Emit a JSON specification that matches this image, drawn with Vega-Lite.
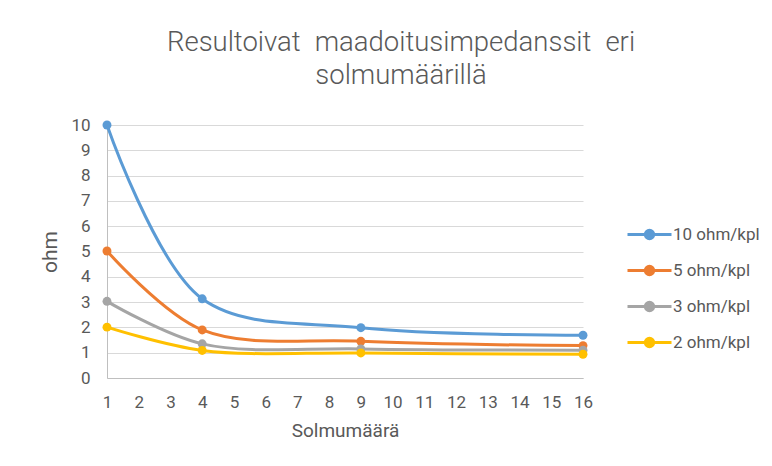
{
  "$schema": "https://vega.github.io/schema/vega-lite/v6.json",
  "width": 476,
  "height": 253,
  "autosize": {"type": "none"},
  "padding": {"left": 107, "top": 125, "right": 189, "bottom": 88},
  "background": "white",
  "title": {
    "text": ["Resultoivat\u2002maadoitusimpedanssit\u2002eri", "solmumäärillä"],
    "font": "Roboto",
    "fontWeight": 300,
    "fontSize": 27.5,
    "color": "#595959",
    "anchor": "middle",
    "dx": 56,
    "offset": 27,
    "lineHeight": 33
  },
  "data": {
    "values": [
      {"n": 1, "series": "10 ohm/kpl", "ohm": 10.0},
      {"n": 4, "series": "10 ohm/kpl", "ohm": 3.13},
      {"n": 9, "series": "10 ohm/kpl", "ohm": 1.99},
      {"n": 16, "series": "10 ohm/kpl", "ohm": 1.69},
      {"n": 1, "series": "5 ohm/kpl", "ohm": 5.02},
      {"n": 4, "series": "5 ohm/kpl", "ohm": 1.9},
      {"n": 9, "series": "5 ohm/kpl", "ohm": 1.45},
      {"n": 16, "series": "5 ohm/kpl", "ohm": 1.28},
      {"n": 1, "series": "3 ohm/kpl", "ohm": 3.03},
      {"n": 4, "series": "3 ohm/kpl", "ohm": 1.35},
      {"n": 9, "series": "3 ohm/kpl", "ohm": 1.15},
      {"n": 16, "series": "3 ohm/kpl", "ohm": 1.1},
      {"n": 1, "series": "2 ohm/kpl", "ohm": 2.01},
      {"n": 4, "series": "2 ohm/kpl", "ohm": 1.09},
      {"n": 9, "series": "2 ohm/kpl", "ohm": 0.99},
      {"n": 16, "series": "2 ohm/kpl", "ohm": 0.94}
    ]
  },
  "mark": {
    "type": "line",
    "interpolate": "catmull-rom",
    "strokeWidth": 3,
    "point": {"filled": true, "size": 80, "opacity": 1}
  },
  "encoding": {
    "x": {
      "field": "n",
      "type": "quantitative",
      "scale": {"domain": [1, 16], "nice": false, "zero": false},
      "axis": {
        "title": "Solmumäärä",
        "values": [1, 2, 3, 4, 5, 6, 7, 8, 9, 10, 11, 12, 13, 14, 15, 16],
        "grid": false,
        "ticks": false,
        "domainColor": "#BFBFBF",
        "domainWidth": 1,
        "labelFont": "Roboto",
        "labelFontSize": 17,
        "labelColor": "#595959",
        "labelPadding": 16,
        "labelFlush": false,
        "titleFont": "Roboto",
        "titleFontSize": 19,
        "titleFontWeight": "normal",
        "titleColor": "#595959",
        "titlePadding": 11
      }
    },
    "y": {
      "field": "ohm",
      "type": "quantitative",
      "scale": {"domain": [0, 10], "nice": false},
      "axis": {
        "title": "ohm",
        "values": [0, 1, 2, 3, 4, 5, 6, 7, 8, 9, 10],
        "grid": true,
        "gridColor": "#D9D9D9",
        "gridWidth": 1,
        "ticks": false,
        "domainColor": "#BFBFBF",
        "domainWidth": 1,
        "labelFont": "Roboto",
        "labelFontSize": 17,
        "labelColor": "#595959",
        "labelPadding": 17,
        "labelFlush": false,
        "titleFont": "Roboto",
        "titleFontSize": 21,
        "titleFontWeight": "normal",
        "titleColor": "#595959",
        "titlePadding": 10
      }
    },
    "color": {
      "field": "series",
      "type": "nominal",
      "sort": ["10 ohm/kpl", "5 ohm/kpl", "3 ohm/kpl", "2 ohm/kpl"],
      "scale": {
        "domain": ["10 ohm/kpl", "5 ohm/kpl", "3 ohm/kpl", "2 ohm/kpl"],
        "range": ["#5B9BD5", "#ED7D31", "#A5A5A5", "#FFC000"]
      },
      "legend": {
        "title": null,
        "orient": "none",
        "legendX": 519,
        "legendY": 86,
        "symbolType": "M-1,0L1,0M0.19,0A0.19,0.19,0,1,1,-0.19,0A0.19,0.19,0,1,1,0.19,0Z",
        "symbolSize": 1936,
        "symbolStrokeWidth": 3,
        "labelFont": "Roboto",
        "labelFontSize": 17,
        "labelColor": "#595959",
        "labelOffset": 0,
        "rowPadding": 2,
        "encode": {
          "symbols": {
            "update": {
              "fill": {"scale": "color", "field": "value"},
              "stroke": {"scale": "color", "field": "value"},
              "opacity": {"value": 1}
            }
          }
        }
      }
    }
  },
  "config": {"view": {"stroke": null}}
}
